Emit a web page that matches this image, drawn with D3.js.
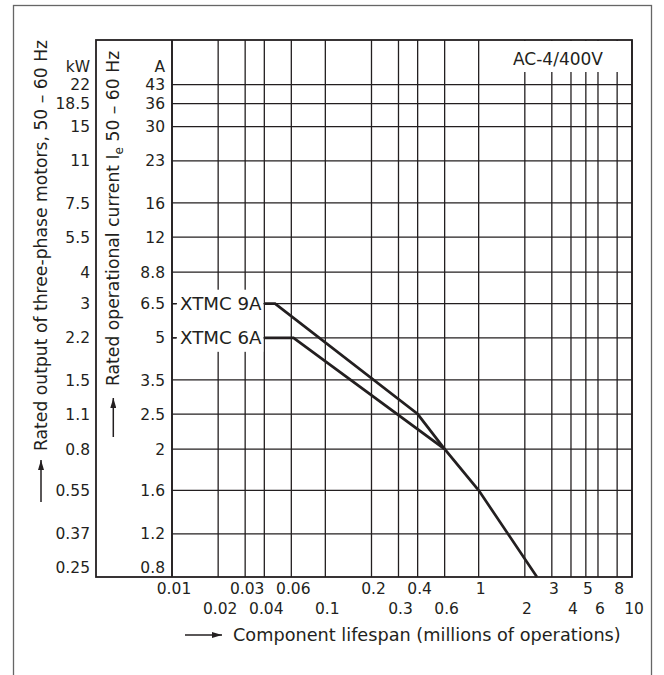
<!DOCTYPE html>
<html>
<head>
<meta charset="utf-8">
<script src="https://cdn.jsdelivr.net/npm/d3@7"></script>
<style>
    body { margin: 0; background: #fff; }
    svg { display: block; font-family: "DejaVu Sans", "Liberation Sans", Arial, sans-serif; }
</style>
</head>
<body>
<div id="chart"></div>
<script>
// lifespan grid (millions of operations)
var lifeTicks = [0.01, 0.02, 0.03, 0.04, 0.06, 0.1, 0.2, 0.3, 0.4, 0.6, 1, 2, 3, 4, 5, 6, 8, 10];
// motor output (kW) and the matching operational current (A), one row each
var kwTicks = [22, 18.5, 15, 11, 7.5, 5.5, 4, 3, 2.2, 1.5, 1.1, 0.8, 0.55, 0.37, 0.25];
var ampTicks = [43, 36, 30, 23, 16, 12, 8.8, 6.5, 5, 3.5, 2.5, 2, 1.6, 1.2, 0.8];
// curves: [lifespan, current A]
var seriesNames = ['XTMC 9A', 'XTMC 6A'];
var xtmc9 = [[0.04, 6.5], [0.047, 6.5], [0.4, 2.5], [0.6, 2]];
var xtmc6 = [[0.04, 5], [0.062, 5], [0.6, 2], [1, 1.6], [2.4, 0.8]];

(function() {
    var W = 664, H = 675;
    var left = 172, right = 632, top = 40, bottom = 577, boxLeft = 96;
    var ink = '#231f20';

    var svg = d3.select('#chart').append('svg')
        .attr('width', W)
        .attr('height', H);

    var defs = svg.append('defs');
    defs.append('marker')
        .attr('id', 'head')
        .attr('viewBox', '0 0 10 6')
        .attr('refX', 10).attr('refY', 3)
        .attr('markerWidth', 10).attr('markerHeight', 6)
        .attr('markerUnits', 'userSpaceOnUse')
        .attr('orient', 'auto')
        .append('path')
        .attr('d', 'M0,0L10,3L0,6Z')
        .attr('fill', ink);

    var x = d3.scaleLog().domain([0.01, 10]).range([left, right]);
    // the grid rows are spaced logarithmically in kW
    var y = d3.scaleLog().domain([0.25, 33]).range([bottom, top]);
    var ampToKw = d3.scaleLinear().domain(ampTicks).range(kwTicks);
    var ya = function (a) { return y(ampToKw(a)); };

    // outer frame (cut off at the bottom)
    svg.append('rect')
        .attr('x', 13.5).attr('y', 5.5)
        .attr('width', 638).attr('height', 720)
        .attr('fill', 'none')
        .attr('stroke', '#666')
        .attr('stroke-width', 1.3);

    var grid = svg.append('g')
        .attr('stroke', ink)
        .attr('stroke-width', 1.3);

    grid.selectAll('line.h')
        .data(kwTicks.filter(function (d) { return d > 0.25; }))
        .enter().append('line')
        .attr('class', 'h')
        .attr('x1', left).attr('x2', right)
        .attr('y1', function (d) { return y(d); })
        .attr('y2', function (d) { return y(d); });

    grid.selectAll('line.v')
        .data(lifeTicks)
        .enter().append('line')
        .attr('class', 'v')
        .attr('x1', function (d) { return x(d); })
        .attr('x2', function (d) { return x(d); })
        .attr('y1', top).attr('y2', bottom);

    // AC-4 label sits on a white patch over the upper grid
    svg.append('rect')
        .attr('x', x(1) + 2).attr('y', top + 1)
        .attr('width', x(10) - x(1) - 3).attr('height', 31)
        .attr('fill', '#fff');
    svg.append('text')
        .attr('x', 558).attr('y', 65)
        .attr('text-anchor', 'middle')
        .attr('font-size', 17)
        .attr('fill', ink)
        .text('AC-4/400V');

    // plot box including the ampere column
    svg.append('rect')
        .attr('x', boxLeft).attr('y', top)
        .attr('width', right - boxLeft).attr('height', bottom - top)
        .attr('fill', 'none')
        .attr('stroke', ink)
        .attr('stroke-width', 1.8);
    svg.append('line')
        .attr('x1', left).attr('x2', left)
        .attr('y1', top).attr('y2', bottom)
        .attr('stroke', ink)
        .attr('stroke-width', 1.8);

    // y labels
    var lab = svg.append('g')
        .attr('font-size', 15.5)
        .attr('fill', ink)
        .attr('text-anchor', 'end');

    lab.selectAll('text.kw')
        .data(kwTicks)
        .enter().append('text')
        .attr('class', 'kw')
        .attr('x', 90)
        .attr('y', function (d) { return y(d) - (d === 0.25 ? 10 : 0); })
        .attr('dy', '0.36em')
        .text(function (d) { return d; });

    lab.selectAll('text.amp')
        .data(ampTicks)
        .enter().append('text')
        .attr('class', 'amp')
        .attr('x', 165)
        .attr('y', function (d) { return ya(d) - (d === 0.8 ? 10 : 0); })
        .attr('dy', '0.36em')
        .text(function (d) { return d; });

    lab.append('text').attr('x', 90).attr('y', 72).text('kW');
    lab.append('text').attr('x', 165).attr('y', 72).text('A');

    // x labels in two staggered rows
    svg.append('g')
        .attr('font-size', 15.5)
        .attr('fill', ink)
        .attr('text-anchor', 'middle')
        .selectAll('text')
        .data(lifeTicks)
        .enter().append('text')
        .attr('x', function (d) { return x(d) + 2; })
        .attr('y', function (d, i) { return i % 2 === 0 ? 594 : 614; })
        .text(function (d) { return d; });

    // axis titles
    svg.append('text')
        .attr('transform', 'translate(46.5,451) rotate(-90)')
        .attr('font-size', 17.2)
        .attr('fill', ink)
        .text('Rated output of three-phase motors, 50 – 60 Hz');

    var t2 = svg.append('text')
        .attr('transform', 'translate(118.5,386) rotate(-90)')
        .attr('font-size', 17.2)
        .attr('fill', ink);
    t2.append('tspan').text('Rated operational current I');
    t2.append('tspan').attr('font-size', 12).attr('dy', 4).text('e');
    t2.append('tspan').attr('dy', -4).text(' 50 – 60 Hz');

    svg.append('text')
        .attr('x', 233).attr('y', 641)
        .attr('font-size', 17.7)
        .attr('fill', ink)
        .text('Component lifespan (millions of operations)');

    var arrows = [[41, 502, 41, 460], [113.3, 437, 113.3, 398], [185, 635, 222, 635]];
    svg.selectAll('line.arrow')
        .data(arrows)
        .enter().append('line')
        .attr('class', 'arrow')
        .attr('x1', function (d) { return d[0]; })
        .attr('y1', function (d) { return d[1]; })
        .attr('x2', function (d) { return d[2]; })
        .attr('y2', function (d) { return d[3]; })
        .attr('stroke', ink)
        .attr('stroke-width', 1.5)
        .attr('marker-end', 'url(#head)');

    // curve labels: one white block masks the grid behind both of them
    var series = [xtmc9, xtmc6];
    var mask = svg.append('rect').attr('fill', '#fff');
    var labels = svg.selectAll('text.curve-label')
        .data(series)
        .enter().append('text')
        .attr('class', 'curve-label')
        .attr('x', left + 8)
        .attr('y', function (s) { return ya(s[0][1]); })
        .attr('dy', '0.36em')
        .attr('font-size', 18.2)
        .attr('fill', ink)
        .text(function (s, i) { return seriesNames[i]; });
    var y0 = ya(xtmc9[0][1]) - 14, y1 = ya(xtmc6[0][1]) + 14;
    mask.attr('x', left + 4).attr('y', y0)
        .attr('width', x(xtmc9[0][0]) - left - 5).attr('height', y1 - y0);

    // short stubs from the axis to the labels
    svg.selectAll('line.stub')
        .data(series)
        .enter().append('line')
        .attr('x1', left).attr('x2', left + 5)
        .attr('y1', function (s) { return ya(s[0][1]); })
        .attr('y2', function (s) { return ya(s[0][1]); })
        .attr('stroke', ink)
        .attr('stroke-width', 1.3);

    var line = d3.line()
        .x(function (d) { return x(d[0]); })
        .y(function (d) { return ya(d[1]); });

    svg.selectAll('path.curve')
        .data(series)
        .enter().append('path')
        .attr('class', 'curve')
        .attr('d', line)
        .attr('fill', 'none')
        .attr('stroke', ink)
        .attr('stroke-width', 2.7)
        .attr('stroke-linejoin', 'miter');
}());
</script>
</body>
</html>
